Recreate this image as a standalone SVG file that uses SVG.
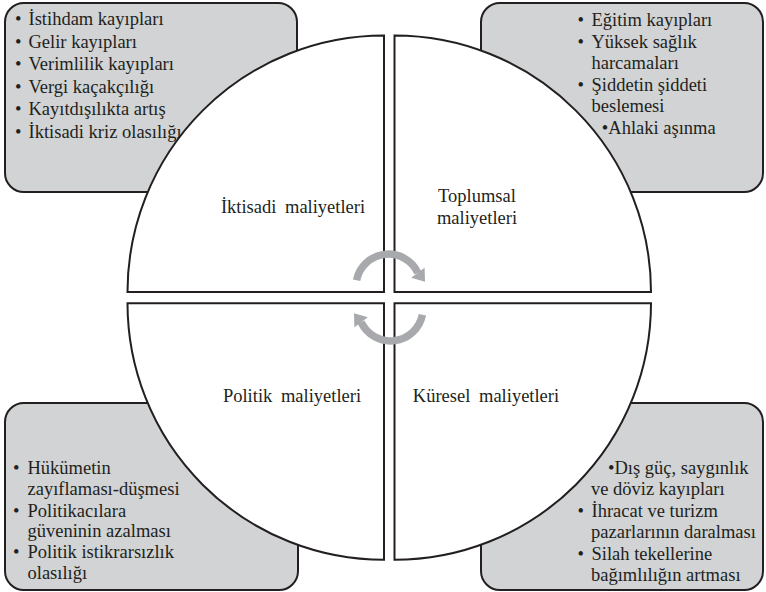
<svg xmlns="http://www.w3.org/2000/svg" width="766" height="592" viewBox="0 0 766 592">
<style>
.box{fill:#d1d3d4;stroke:#231f20;stroke-width:2}
.q{fill:#ffffff;stroke:#231f20;stroke-width:2;stroke-linejoin:miter}
.t{font-family:"Liberation Serif","Times New Roman",serif;font-size:18.5px;fill:#231f20}
.lbl{font-family:"Liberation Serif","Times New Roman",serif;font-size:18.5px;fill:#231f20;text-anchor:middle;word-spacing:4px}
.arc{fill:none;stroke:#a7a9ac;stroke-width:7.5}
.head{fill:#a7a9ac}
</style>
<rect width="766" height="592" fill="#ffffff"/>
<g id="box-iktisadi">
<rect class="box" x="5" y="3" width="292" height="189" rx="19"/>
<text class="t"><tspan x="15" y="25">•</tspan><tspan x="28.5">İstihdam kayıpları</tspan></text>
<text class="t"><tspan x="15" y="47.6">•</tspan><tspan x="28.5">Gelir kayıpları</tspan></text>
<text class="t"><tspan x="15" y="70.2">•</tspan><tspan x="28.5">Verimlilik kayıpları</tspan></text>
<text class="t"><tspan x="15" y="92.8">•</tspan><tspan x="28.5">Vergi kaçakçılığı</tspan></text>
<text class="t"><tspan x="15" y="115.4">•</tspan><tspan x="28.5">Kayıtdışılıkta artış</tspan></text>
<text class="t"><tspan x="15" y="138">•</tspan><tspan x="28.5">İktisadi kriz olasılığı</tspan></text>
</g>
<g id="box-toplumsal">
<rect class="box" x="481" y="3" width="282" height="189" rx="19"/>
<text class="t"><tspan x="577.5" y="26">•</tspan><tspan x="591.5">Eğitim kayıpları</tspan></text>
<text class="t"><tspan x="577.5" y="47.5">•</tspan><tspan x="591.5">Yüksek sağlık</tspan></text>
<text class="t" x="591.5" y="69">harcamaları</text>
<text class="t"><tspan x="577.5" y="90.5">•</tspan><tspan x="591.5">Şiddetin şiddeti</tspan></text>
<text class="t" x="591.5" y="112">beslemesi</text>
<text class="t" x="601.8" y="133.5">•Ahlaki aşınma</text>
</g>
<g id="box-politik">
<rect class="box" x="5" y="403" width="293" height="187" rx="19"/>
<text class="t"><tspan x="13" y="474">•</tspan><tspan x="27.5">Hükümetin</tspan></text>
<text class="t" x="27.5" y="494.8">zayıflaması-düşmesi</text>
<text class="t"><tspan x="13" y="516.6">•</tspan><tspan x="27.5">Politikacılara</tspan></text>
<text class="t" x="27.5" y="537.4">güveninin azalması</text>
<text class="t"><tspan x="13" y="558.2">•</tspan><tspan x="27.5">Politik istikrarsızlık</tspan></text>
<text class="t" x="27.5" y="579">olasılığı</text>
</g>
<g id="box-kuresel">
<rect class="box" x="481" y="403" width="282" height="187" rx="19"/>
<text class="t" x="608" y="473.5">•Dış güç, saygınlık</text>
<text class="t" x="591" y="495">ve döviz kayıpları</text>
<text class="t"><tspan x="577.5" y="517">•</tspan><tspan x="591.5">İhracat ve turizm</tspan></text>
<text class="t" x="591" y="538">pazarlarının daralması</text>
<text class="t"><tspan x="577.5" y="559.5">•</tspan><tspan x="591.5">Silah tekellerine</tspan></text>
<text class="t" x="591" y="580.5">bağımlılığın artması</text>
</g>
<g id="node-iktisadi">
<path class="q" d="M384,292 L127.5,292 A256.5,256.5 0 0 1 384,35.5 Z"/>
<text class="lbl" x="293" y="213">İktisadi maliyetleri</text>
</g>
<g id="node-toplumsal">
<path class="q" d="M394.5,292 L394.5,35.5 A256.5,256.5 0 0 1 651,292 Z"/>
<text class="lbl" x="477" y="202">Toplumsal</text>
<text class="lbl" x="477" y="224">maliyetleri</text>
</g>
<g id="node-politik">
<path class="q" d="M384,303.3 L384,559.8 A256.5,256.5 0 0 1 127.5,303.3 Z"/>
<text class="lbl" x="292" y="402">Politik maliyetleri</text>
</g>
<g id="node-kuresel">
<path class="q" d="M394.5,303.3 L651,303.3 A256.5,256.5 0 0 1 394.5,559.8 Z"/>
<text class="lbl" x="486" y="402">Küresel maliyetleri</text>
</g>
<g id="connectors">
<g id="arrow-top">
<path class="arc" d="M356.6,280.3 A32.5,32.5 0 0 1 417.9,272.8"/>
<polygon class="head" points="424.6,267.8 411.2,277.8 425,281.8"/>
</g>
<g id="arrow-bottom" transform="rotate(180 389.5 297.5)">
<path class="arc" d="M356.6,280.3 A32.5,32.5 0 0 1 417.9,272.8"/>
<polygon class="head" points="424.6,267.8 411.2,277.8 425,281.8"/>
</g>
</g>
</svg>
